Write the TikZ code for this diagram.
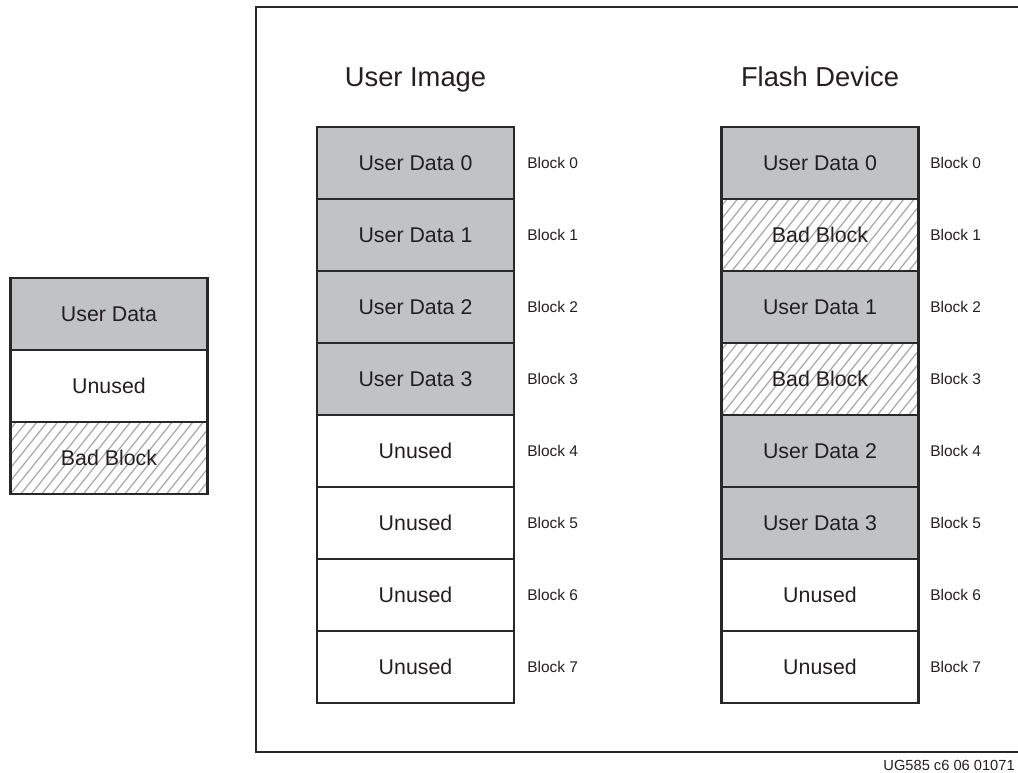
\documentclass[tikz,border=0pt]{standalone}
\usepackage{fontspec}
\setmainfont{Liberation Sans}
\definecolor{udfill}{RGB}{193,194,196}
\definecolor{edgec}{RGB}{40,40,40}
\definecolor{txt}{RGB}{35,31,32}
\definecolor{hatchc}{RGB}{165,165,165}
\tikzset{
  blk/.style={draw=edgec, line width=2.2pt, minimum width=147.75pt, minimum height=54pt,
    inner sep=0pt, text=txt, font=\fontsize{16}{19}\selectfont},
  used/.style={blk, fill=udfill},
  free/.style={blk, fill=white},
  bad/.style={blk, fill=white, path picture={
    \foreach \k in {-9,...,21} {
      \draw[hatchc, line width=0.9pt] ([xshift=\k*7.8pt]path picture bounding box.south west) -- ++(48pt,60pt);
    }}},
  blabel/.style={anchor=west, inner sep=0pt, text=txt, font=\fontsize{11.6}{14}\selectfont},
  title/.style={anchor=base, inner sep=0pt, text=txt, font=\fontsize{20.5}{24}\selectfont},
  frame/.style={draw=edgec, line width=1.6pt}
}
\begin{document}
\begin{tikzpicture}[x=0.75pt, y=-0.75pt]
\useasboundingbox (0,0) rectangle (1018,773);
% frame
\draw[frame] (1030,7) -- (256,7) -- (256,752) -- (1030,752);
% legend
\node[used] (lg1) at (109,314) {User Data};
\node[free] (lg2) at (109,386) {Unused};
\node[bad]  (lg3) at (109,458) {Bad Block};
% titles
\node[title] (t1) at (415.5,87) {User Image};
\node[title] (t2) at (820,87) {Flash Device};
% user image column
\foreach \i/\st/\tx in {0/used/User Data 0, 1/used/User Data 1, 2/used/User Data 2, 3/used/User Data 3,
                        4/free/Unused, 5/free/Unused, 6/free/Unused, 7/free/Unused} {
  \node[\st] (u\i) at (415.5,163+72*\i) {\tx};
  \node[blabel] (ul\i) at (527,163+72*\i) {Block \i};
}
% flash device column
\foreach \i/\st/\tx in {0/used/User Data 0, 1/bad/Bad Block, 2/used/User Data 1, 3/bad/Bad Block,
                        4/used/User Data 2, 5/used/User Data 3, 6/free/Unused, 7/free/Unused} {
  \node[\st] (f\i) at (820,163+72*\i) {\tx};
  \node[blabel] (fl\i) at (930,163+72*\i) {Block \i};
}
% footer
\node[anchor=east, inner sep=0pt, text=txt, font=\fontsize{11}{13}\selectfont] (foot) at (1015,765) {UG585 c6 06 01071};
\end{tikzpicture}
\end{document}
